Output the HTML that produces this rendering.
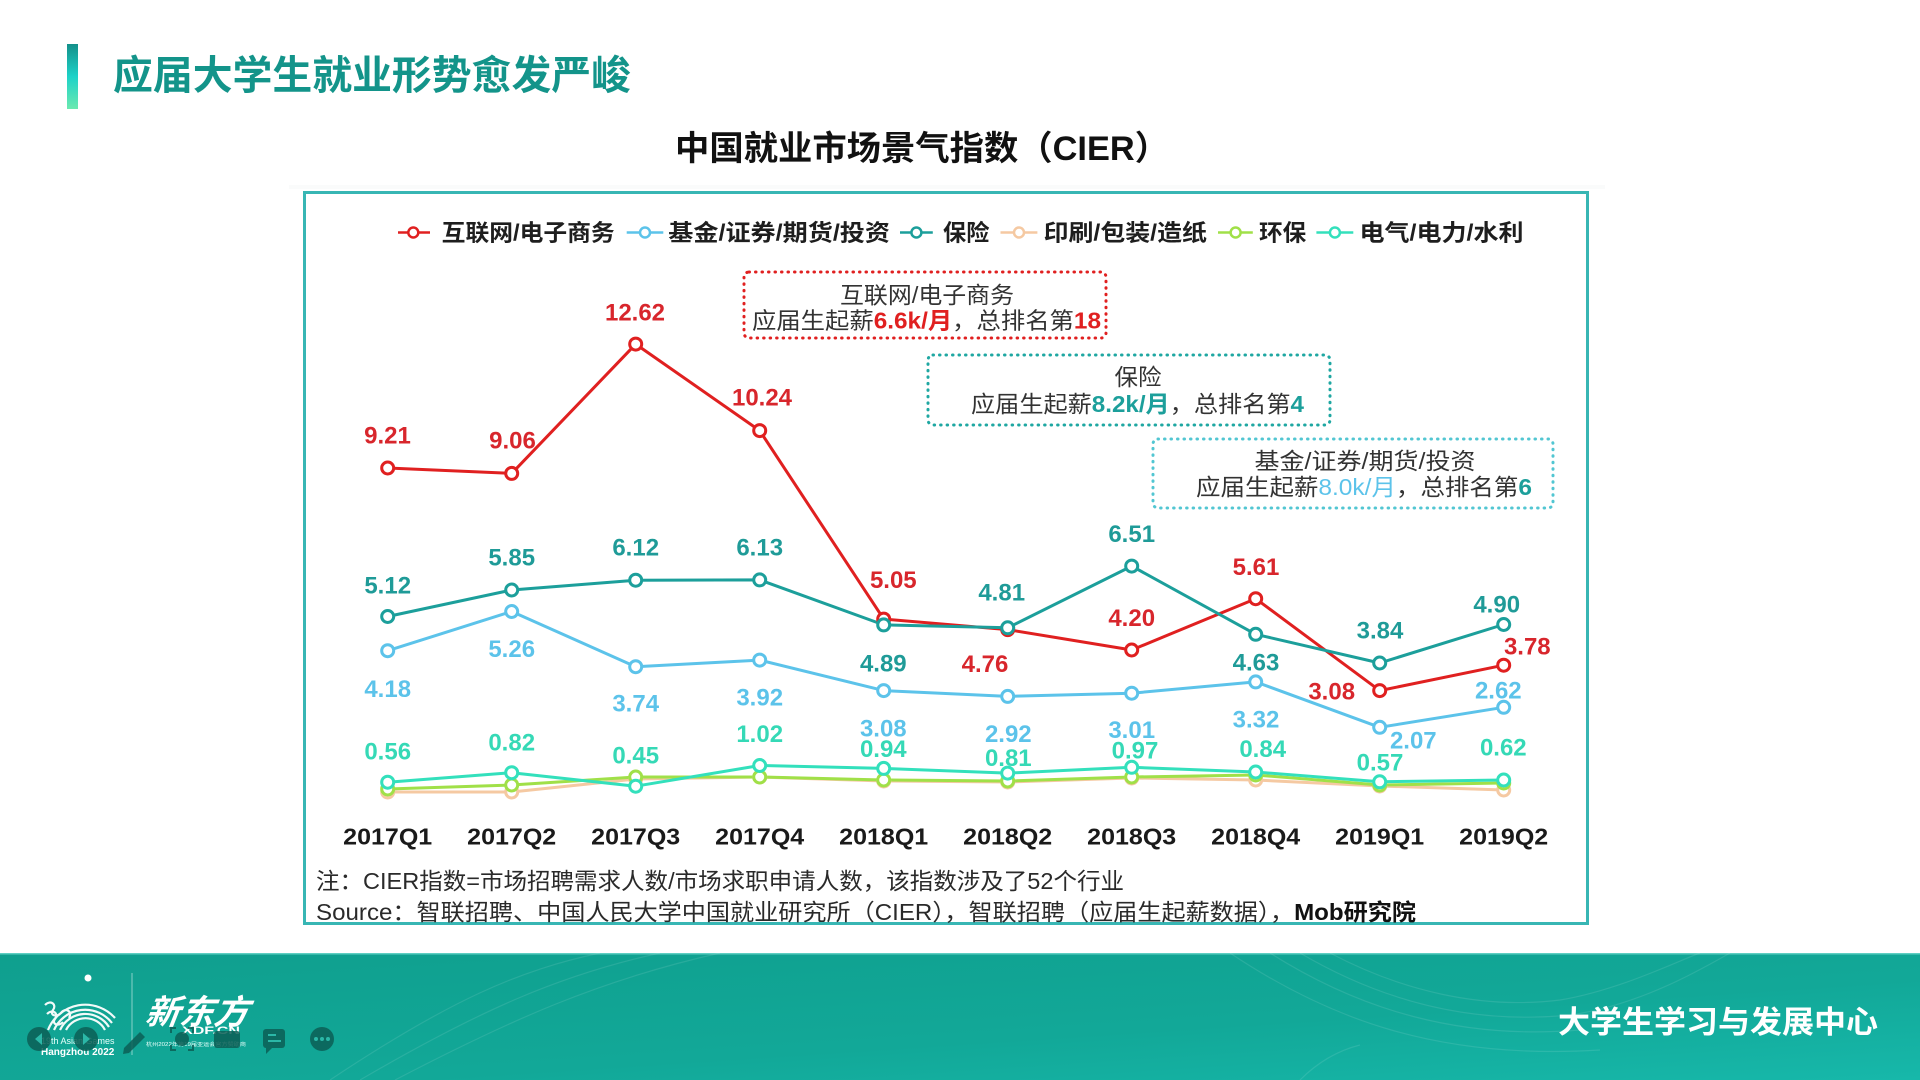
<!DOCTYPE html>
<html>
<head>
<meta charset="utf-8">
<style>
  html,body{margin:0;padding:0;background:#fff;}
  body{width:1920px;height:1080px;overflow:hidden;}
  svg{display:block;}
  .cjk{font-family:"Liberation Sans","Noto Sans CJK SC",sans-serif;}
  .num{font-family:"Liberation Sans","Noto Sans CJK SC",sans-serif;font-weight:700;font-size:24px;text-anchor:middle;}
</style>
</head>
<body>
<svg width="1920" height="1080" viewBox="0 0 1920 1080" xmlns="http://www.w3.org/2000/svg">
  <defs>
    <linearGradient id="bar" x1="0" y1="0" x2="0" y2="1">
      <stop offset="0" stop-color="#14908a"/>
      <stop offset="0.5" stop-color="#1dd2c8"/>
      <stop offset="1" stop-color="#6ce9b0"/>
    </linearGradient>
    <linearGradient id="foot" x1="0" y1="0" x2="1" y2="1">
      <stop offset="0" stop-color="#0f9f8e"/>
      <stop offset="0.6" stop-color="#12a898"/>
      <stop offset="1" stop-color="#17b8aa"/>
    </linearGradient>
  </defs>

  <!-- Title -->
  <rect x="67" y="44" width="11" height="65" fill="url(#bar)"/>
  <text x="113" y="89" class="cjk" font-size="40" font-weight="700" fill="#13948a" textLength="518" lengthAdjust="spacingAndGlyphs">应届大学生就业形势愈发严峻</text>

  <!-- Subtitle -->
  <text x="675" y="160" class="cjk" font-size="34" font-weight="700" fill="#111" textLength="494" lengthAdjust="spacingAndGlyphs">中国就业市场景气指数（CIER）</text>

  <!-- Chart box -->
  <rect x="289" y="185" width="1316" height="4" fill="#fafbfb"/>
  <rect x="304.5" y="192.5" width="1283" height="731" fill="#fff" stroke="#38b6b4" stroke-width="3"/>

  <!-- Legend -->
  <g stroke-width="2.5" fill="#fff">
    <line x1="398" y1="232.5" x2="430" y2="232.5" stroke="#e02020"/>
    <circle cx="413.3" cy="232.5" r="5" stroke="#e02020"/>
    <line x1="626.7" y1="232.5" x2="663.3" y2="232.5" stroke="#5cc3ea"/>
    <circle cx="645" cy="232.5" r="5" stroke="#5cc3ea"/>
    <line x1="900" y1="232.5" x2="932.8" y2="232.5" stroke="#1c9f9b"/>
    <circle cx="916.4" cy="232.5" r="5" stroke="#1c9f9b"/>
    <line x1="1000.5" y1="232.5" x2="1037.4" y2="232.5" stroke="#f5c9a2"/>
    <circle cx="1019" cy="232.5" r="5" stroke="#f5c9a2"/>
    <line x1="1218" y1="232.5" x2="1252.8" y2="232.5" stroke="#a0e048"/>
    <circle cx="1235.6" cy="232.5" r="5" stroke="#a0e048"/>
    <line x1="1316.4" y1="232.5" x2="1353.3" y2="232.5" stroke="#33e0bc"/>
    <circle cx="1334.9" cy="232.5" r="5" stroke="#33e0bc"/>
  </g>
  <g class="cjk" font-size="23" font-weight="700" fill="#1e1e1e">
    <text x="441.7" y="240.5" textLength="173" lengthAdjust="spacingAndGlyphs">互联网/电子商务</text>
    <text x="668.3" y="240.5" textLength="221.7" lengthAdjust="spacingAndGlyphs">基金/证券/期货/投资</text>
    <text x="943" y="240.5" textLength="46.4" lengthAdjust="spacingAndGlyphs">保险</text>
    <text x="1043.6" y="240.5" textLength="163.3" lengthAdjust="spacingAndGlyphs">印刷/包装/造纸</text>
    <text x="1259" y="240.5" textLength="47.2" lengthAdjust="spacingAndGlyphs">环保</text>
    <text x="1359.5" y="240.5" textLength="164" lengthAdjust="spacingAndGlyphs">电气/电力/水利</text>
  </g>

  <!-- Annotation boxes -->
  <rect x="744" y="272" width="362" height="66" rx="5" fill="none" stroke="#e02020" stroke-width="3" stroke-dasharray="0.5 6" stroke-linecap="round"/>
  <rect x="928" y="355" width="402" height="70" rx="5" fill="none" stroke="#1fa7a2" stroke-width="3" stroke-dasharray="0.5 6" stroke-linecap="round"/>
  <rect x="1153" y="439" width="400" height="69" rx="5" fill="none" stroke="#52c6d2" stroke-width="3" stroke-dasharray="0.5 6" stroke-linecap="round"/>

  <g class="cjk" font-size="23" fill="#333">
    <text x="927" y="303" text-anchor="middle" textLength="174" lengthAdjust="spacingAndGlyphs">互联网/电子商务</text>
    <text x="752" y="328.5" textLength="349" lengthAdjust="spacingAndGlyphs">应届生起薪<tspan fill="#e02020" font-weight="700">6.6k/月</tspan>，总排名第<tspan fill="#e02020" font-weight="700">18</tspan></text>

    <text x="1138" y="385" text-anchor="middle" textLength="47" lengthAdjust="spacingAndGlyphs">保险</text>
    <text x="971" y="412" textLength="333" lengthAdjust="spacingAndGlyphs">应届生起薪<tspan fill="#1c9f9b" font-weight="700">8.2k/月</tspan>，总排名第<tspan fill="#1c9f9b" font-weight="700">4</tspan></text>

    <text x="1365" y="469" text-anchor="middle" textLength="221" lengthAdjust="spacingAndGlyphs">基金/证券/期货/投资</text>
    <text x="1196" y="495" textLength="336" lengthAdjust="spacingAndGlyphs">应届生起薪<tspan fill="#5cc3ea">8.0k/月</tspan>，总排名第<tspan fill="#1c9f9b" font-weight="700">6</tspan></text>
  </g>

  <!-- Series lines -->
  <g fill="none" stroke-width="3" stroke-linejoin="round">
    <polyline stroke="#e02020" points="387.7,468.0 511.7,473.4 635.7,344.1 759.7,430.6 883.7,619.1 1007.7,629.6 1131.7,650.0 1255.7,598.7 1379.7,690.6 1503.7,665.2"/>
    <polyline stroke="#5cc3ea" points="387.7,650.7 511.7,611.5 635.7,666.7 759.7,660.1 883.7,690.6 1007.7,696.4 1131.7,693.2 1255.7,681.9 1379.7,727.3 1503.7,707.3"/>
    <polyline stroke="#1c9f9b" points="387.7,616.5 511.7,590.0 635.7,580.2 759.7,579.9 883.7,624.9 1007.7,627.8 1131.7,566.1 1255.7,634.3 1379.7,663.0 1503.7,624.5"/>
    <polyline stroke="#f5c9a2" points="387.7,792 511.7,792 635.7,779 759.7,777 883.7,781 1007.7,782 1131.7,778 1255.7,780 1379.7,786 1503.7,790"/>
    <polyline stroke="#a0e048" points="387.7,789 511.7,785 635.7,777 759.7,777 883.7,780 1007.7,781 1131.7,777 1255.7,775 1379.7,785 1503.7,783"/>
    <polyline stroke="#33e0bc" points="387.7,782.2 511.7,772.7 635.7,786.2 759.7,765.5 883.7,768.4 1007.7,773.1 1131.7,767.3 1255.7,772.0 1379.7,781.8 1503.7,780.0"/>
  </g>

  <!-- Markers -->
  <g fill="#fff" stroke-width="3">
    <g stroke="#e02020">
      <circle cx="387.7" cy="468.0" r="6"/><circle cx="511.7" cy="473.4" r="6"/><circle cx="635.7" cy="344.1" r="6"/><circle cx="759.7" cy="430.6" r="6"/><circle cx="883.7" cy="619.1" r="6"/><circle cx="1007.7" cy="629.6" r="6"/><circle cx="1131.7" cy="650.0" r="6"/><circle cx="1255.7" cy="598.7" r="6"/><circle cx="1379.7" cy="690.6" r="6"/><circle cx="1503.7" cy="665.2" r="6"/>
    </g>
    <g stroke="#5cc3ea">
      <circle cx="387.7" cy="650.7" r="6"/><circle cx="511.7" cy="611.5" r="6"/><circle cx="635.7" cy="666.7" r="6"/><circle cx="759.7" cy="660.1" r="6"/><circle cx="883.7" cy="690.6" r="6"/><circle cx="1007.7" cy="696.4" r="6"/><circle cx="1131.7" cy="693.2" r="6"/><circle cx="1255.7" cy="681.9" r="6"/><circle cx="1379.7" cy="727.3" r="6"/><circle cx="1503.7" cy="707.3" r="6"/>
    </g>
    <g stroke="#1c9f9b">
      <circle cx="387.7" cy="616.5" r="6"/><circle cx="511.7" cy="590.0" r="6"/><circle cx="635.7" cy="580.2" r="6"/><circle cx="759.7" cy="579.9" r="6"/><circle cx="883.7" cy="624.9" r="6"/><circle cx="1007.7" cy="627.8" r="6"/><circle cx="1131.7" cy="566.1" r="6"/><circle cx="1255.7" cy="634.3" r="6"/><circle cx="1379.7" cy="663.0" r="6"/><circle cx="1503.7" cy="624.5" r="6"/>
    </g>
    <g stroke="#f5c9a2">
      <circle cx="387.7" cy="792" r="6"/><circle cx="511.7" cy="792" r="6"/><circle cx="635.7" cy="779" r="6"/><circle cx="759.7" cy="777" r="6"/><circle cx="883.7" cy="781" r="6"/><circle cx="1007.7" cy="782" r="6"/><circle cx="1131.7" cy="778" r="6"/><circle cx="1255.7" cy="780" r="6"/><circle cx="1379.7" cy="786" r="6"/><circle cx="1503.7" cy="790" r="6"/>
    </g>
    <g stroke="#a0e048">
      <circle cx="387.7" cy="789" r="6"/><circle cx="511.7" cy="785" r="6"/><circle cx="635.7" cy="777" r="6"/><circle cx="759.7" cy="777" r="6"/><circle cx="883.7" cy="780" r="6"/><circle cx="1007.7" cy="781" r="6"/><circle cx="1131.7" cy="777" r="6"/><circle cx="1255.7" cy="775" r="6"/><circle cx="1379.7" cy="785" r="6"/><circle cx="1503.7" cy="783" r="6"/>
    </g>
    <g stroke="#33e0bc">
      <circle cx="387.7" cy="782.2" r="6"/><circle cx="511.7" cy="772.7" r="6"/><circle cx="635.7" cy="786.2" r="6"/><circle cx="759.7" cy="765.5" r="6"/><circle cx="883.7" cy="768.4" r="6"/><circle cx="1007.7" cy="773.1" r="6"/><circle cx="1131.7" cy="767.3" r="6"/><circle cx="1255.7" cy="772.0" r="6"/><circle cx="1379.7" cy="781.8" r="6"/><circle cx="1503.7" cy="780.0" r="6"/>
    </g>
  </g>

  <!-- Data labels -->
  <g class="num" fill="#d8262c">
    <text x="387.5" y="443.5">9.21</text>
    <text x="512.5" y="448.5">9.06</text>
    <text x="635" y="320.5">12.62</text>
    <text x="762" y="405.5">10.24</text>
    <text x="893.3" y="588">5.05</text>
    <text x="985" y="672">4.76</text>
    <text x="1131.7" y="626">4.20</text>
    <text x="1256" y="575">5.61</text>
    <text x="1331.7" y="699.5">3.08</text>
    <text x="1527.3" y="654.5">3.78</text>
  </g>
  <g class="num" fill="#1f9b98">
    <text x="387.7" y="593.5">5.12</text>
    <text x="511.7" y="565.5">5.85</text>
    <text x="635.7" y="555.5">6.12</text>
    <text x="759.7" y="555.5">6.13</text>
    <text x="883.3" y="671.5">4.89</text>
    <text x="1001.7" y="600.5">4.81</text>
    <text x="1131.7" y="542">6.51</text>
    <text x="1256" y="670.5">4.63</text>
    <text x="1380" y="638.5">3.84</text>
    <text x="1496.7" y="612.5">4.90</text>
  </g>
  <g class="num" fill="#5cc3ea">
    <text x="387.7" y="697">4.18</text>
    <text x="511.7" y="657">5.26</text>
    <text x="635.7" y="711.5">3.74</text>
    <text x="759.7" y="705.5">3.92</text>
    <text x="883.3" y="736.5">3.08</text>
    <text x="1008.3" y="742">2.92</text>
    <text x="1131.7" y="738">3.01</text>
    <text x="1256" y="727.5">3.32</text>
    <text x="1413.3" y="748.5">2.07</text>
    <text x="1498.3" y="698.5">2.62</text>
  </g>
  <g class="num" fill="#35d9b6">
    <text x="387.7" y="759.5">0.56</text>
    <text x="511.7" y="750.5">0.82</text>
    <text x="635.7" y="763.5">0.45</text>
    <text x="759.7" y="742">1.02</text>
    <text x="883.3" y="757">0.94</text>
    <text x="1008.3" y="766">0.81</text>
    <text x="1135" y="758.5">0.97</text>
    <text x="1262.7" y="757">0.84</text>
    <text x="1380" y="770.5">0.57</text>
    <text x="1503.3" y="755.5">0.62</text>
  </g>

  <!-- X axis labels -->
  <g font-family="Liberation Sans, sans-serif" font-weight="700" font-size="23" fill="#1a1a1a" text-anchor="middle">
    <text x="387.7" y="844.5" textLength="89" lengthAdjust="spacingAndGlyphs">2017Q1</text>
    <text x="511.7" y="844.5" textLength="89" lengthAdjust="spacingAndGlyphs">2017Q2</text>
    <text x="635.7" y="844.5" textLength="89" lengthAdjust="spacingAndGlyphs">2017Q3</text>
    <text x="759.7" y="844.5" textLength="89" lengthAdjust="spacingAndGlyphs">2017Q4</text>
    <text x="883.7" y="844.5" textLength="89" lengthAdjust="spacingAndGlyphs">2018Q1</text>
    <text x="1007.7" y="844.5" textLength="89" lengthAdjust="spacingAndGlyphs">2018Q2</text>
    <text x="1131.7" y="844.5" textLength="89" lengthAdjust="spacingAndGlyphs">2018Q3</text>
    <text x="1255.7" y="844.5" textLength="89" lengthAdjust="spacingAndGlyphs">2018Q4</text>
    <text x="1379.7" y="844.5" textLength="89" lengthAdjust="spacingAndGlyphs">2019Q1</text>
    <text x="1503.7" y="844.5" textLength="89" lengthAdjust="spacingAndGlyphs">2019Q2</text>
  </g>

  <!-- Notes -->
  <g class="cjk" font-size="23" fill="#2a2a2a">
    <text x="316" y="889" textLength="808" lengthAdjust="spacingAndGlyphs">注：CIER指数=市场招聘需求人数/市场求职申请人数，该指数涉及了52个行业</text>
    <text x="316" y="920" textLength="1100" lengthAdjust="spacingAndGlyphs">Source：智联招聘、中国人民大学中国就业研究所（CIER），智联招聘（应届生起薪数据），<tspan font-weight="700" fill="#111">Mob研究院</tspan></text>
  </g>

  <!-- Footer -->
  <rect x="0" y="953" width="1920" height="127" fill="url(#foot)"/>
  <rect x="0" y="953" width="1920" height="1.5" fill="#5fcfc3"/>
  <g fill="none" stroke="#ffffff" stroke-opacity="0.10" stroke-width="1.2">
    <path d="M330 1080 C 450 1000, 520 970, 600 953"/>
    <path d="M360 1080 C 480 1010, 560 975, 660 953"/>
    <path d="M395 1080 C 510 1020, 600 980, 720 953"/>
    <path d="M1330 953 C 1400 990, 1480 1010, 1560 1000 C 1620 990, 1680 960, 1700 953"/>
    <path d="M1300 953 C 1380 1000, 1470 1025, 1570 1015 C 1640 1005, 1700 970, 1730 953"/>
    <path d="M1270 953 C 1360 1010, 1460 1040, 1580 1030"/>
    <path d="M1230 953 C 1330 1020, 1440 1060, 1600 1050"/>
    <path d="M1300 1080 C 1320 1060, 1340 1050, 1360 1045"/>
  </g>

  <!-- Asian Games logo approximation -->
  <g fill="none" stroke="#ffffff" stroke-width="2.2" opacity="0.95">
    <path d="M48 1030 A 40 40 0 0 1 115 1018"/>
    <path d="M54 1030 A 34 34 0 0 1 112 1023"/>
    <path d="M60 1030 A 28 28 0 0 1 109 1027"/>
    <path d="M66 1030 A 22 22 0 0 1 105 1030"/>
    <path d="M45 1005 c 6 -6 12 0 8 5 c -4 5 4 8 8 3 c 4 -6 12 -2 8 5"/>
    <path d="M47 1014 c 6 -6 12 0 8 5 c -4 5 4 8 8 3"/>
  </g>
  <circle cx="88" cy="978" r="3.5" fill="#fff"/>
  <text x="41" y="1044" font-family="Liberation Sans, sans-serif" font-size="9" fill="#e8fffb">19th Asian Games</text>
  <text x="41" y="1055" font-family="Liberation Sans, sans-serif" font-size="10" font-weight="700" fill="#fff">Hangzhou 2022</text>
  <rect x="131.5" y="973" width="1" height="82" fill="#ffffff" opacity="0.5"/>
  <text x="145" y="1024" class="cjk" font-size="34" font-weight="700" font-style="italic" fill="#fff" textLength="103" lengthAdjust="spacingAndGlyphs" transform="skewX(-8) translate(143 0)">新东方</text>
  <text x="182" y="1034" font-family="Liberation Sans, sans-serif" font-size="11" font-weight="700" fill="#fff" textLength="58" lengthAdjust="spacingAndGlyphs">XDF.CN</text>
  <text x="146" y="1046" class="cjk" font-size="5" fill="#e8fffb" textLength="100" lengthAdjust="spacingAndGlyphs">杭州2022年第19届亚运会官方赞助商</text>

  <!-- Player controls -->
  <g fill="#0c5f56" opacity="0.85">
    <circle cx="39" cy="1039" r="12"/>
    <circle cx="86" cy="1039" r="12"/>
    <path d="M124 1048 l 16 -16 l 5 5 l -16 16 l -6 1 z"/>
    <circle cx="182" cy="1039" r="7"/>
    <rect x="214" y="1031" width="26" height="17" rx="3"/>
    <rect x="263" y="1029" width="22" height="19" rx="3"/>
    <path d="M266 1048 l 0 6 l 6 -6 z"/>
    <circle cx="322" cy="1039" r="12"/>
  </g>
  <g fill="none" stroke="#0c5f56" stroke-width="2" opacity="0.85">
    <path d="M171 1033 v-5 h5 M188 1028 h5 v5 M193 1045 v5 h-5 M176 1050 h-5 v-5"/>
  </g>
  <path d="M42 1033 l -7 6 l 7 6 z" fill="#2bb7a7"/>
  <path d="M83 1033 l 7 6 l -7 6 z" fill="#2bb7a7"/>
  <g stroke="#2bb7a7" stroke-width="2">
    <line x1="268" y1="1035" x2="276" y2="1035"/>
    <line x1="268" y1="1041" x2="281" y2="1041"/>
  </g>
  <g fill="#2bb7a7">
    <circle cx="316" cy="1039" r="2"/><circle cx="322" cy="1039" r="2"/><circle cx="328" cy="1039" r="2"/>
  </g>

  <text x="1558" y="1033" class="cjk" font-size="31" font-weight="700" fill="#fff" textLength="320" lengthAdjust="spacingAndGlyphs">大学生学习与发展中心</text>
</svg>
</body>
</html>
